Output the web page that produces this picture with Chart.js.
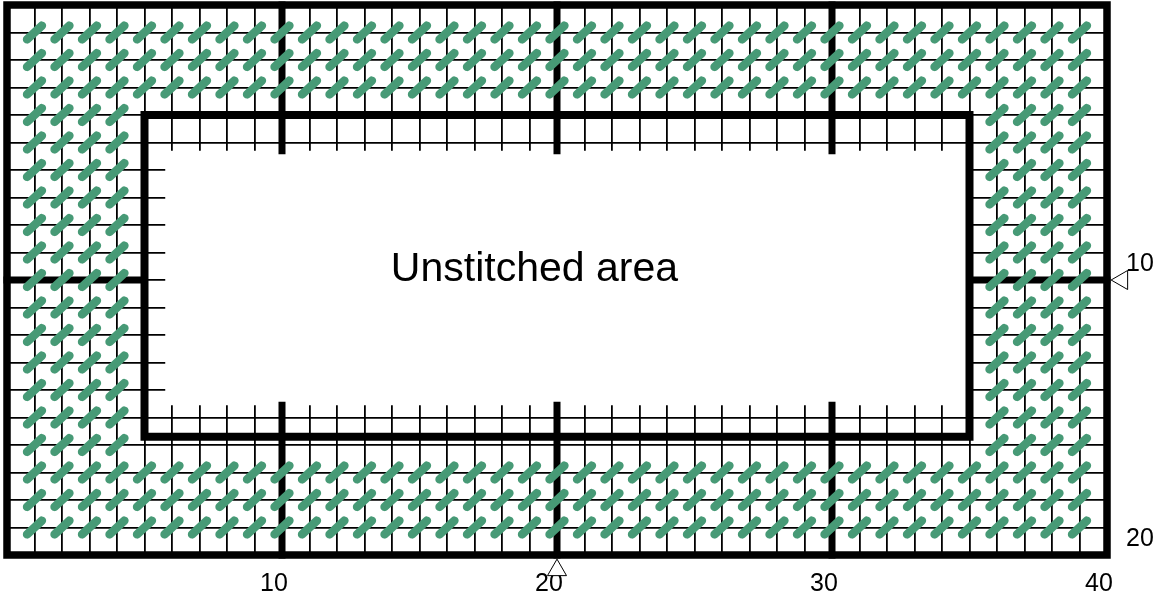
<!DOCTYPE html>
<html>
<head>
<meta charset="utf-8">
<script src="https://cdn.jsdelivr.net/npm/chart.js@4.4.1/dist/chart.umd.min.js"></script>
<style>
  html, body { margin: 0; padding: 0; background: #fff; }
</style>
</head>
<body>
<canvas id="patternChartId" width="1158" height="598"></canvas>
<script>
// pattern size in grid lines
const GRID_COLS = 40;
const GRID_ROWS = 20;

// labelled lines on each axis
const xTickLabels = [10, 20, 30, 40];
const yTickLabels = [10, 20];

// centre line markers
const centreCol = 20;
const centreRow = 10;

// stitched runs: [row, firstCol, lastCol]
const stitchRuns = [
  [1, 1, 39], [2, 1, 39], [3, 1, 39],
  [4, 1, 4], [4, 36, 39],
  [5, 1, 4], [5, 36, 39],
  [6, 1, 4], [6, 36, 39],
  [7, 1, 4], [7, 36, 39],
  [8, 1, 4], [8, 36, 39],
  [9, 1, 4], [9, 36, 39],
  [10, 1, 4], [10, 36, 39],
  [11, 1, 4], [11, 36, 39],
  [12, 1, 4], [12, 36, 39],
  [13, 1, 4], [13, 36, 39],
  [14, 1, 4], [14, 36, 39],
  [15, 1, 4], [15, 36, 39],
  [16, 1, 4], [16, 36, 39],
  [17, 1, 39], [18, 1, 39], [19, 1, 39],
];

// unstitched area: outline and the blank part inside it (grid units)
const innerBoxCols = [5, 35];
const innerBoxRows = [4, 15.7];
const blankCols = [5.75, 35];
const blankRows = [5.3, 14.55];

const areaLabel = "Unstitched area";

// heavy lines every ten cells, cut by the blank area
const heavyCols = [10, 20, 30];
const heavyRows = [10];

const STITCH_COLOR = "#479a76";
const STITCH_DX = 0.27;
const STITCH_DY = 0.25;
const MARK_GAP = 0.55;
const FONT = '"Liberation Sans", Arial, sans-serif';

const stitchPts = [];
stitchRuns.forEach(([row, c0, c1]) => {
  for (let c = c0; c <= c1; c++) {
    stitchPts.push({ x: c - STITCH_DX, y: row + STITCH_DY });
    stitchPts.push({ x: c + STITCH_DX, y: row - STITCH_DY });
    stitchPts.push({ x: c, y: null });
  }
});

const heavyPts = [];
heavyCols.forEach((c) => {
  heavyPts.push({ x: c, y: 0 }, { x: c, y: blankRows[0] }, { x: c, y: null });
  heavyPts.push({ x: c, y: blankRows[1] }, { x: c, y: GRID_ROWS }, { x: c, y: null });
});
heavyRows.forEach((r) => {
  heavyPts.push({ x: 0, y: r }, { x: innerBoxCols[0], y: r }, { x: 0, y: null });
  heavyPts.push({ x: innerBoxCols[1], y: r }, { x: GRID_COLS, y: r }, { x: 0, y: null });
});

const rectPts = (cols, rows) => [
  { x: cols[0], y: rows[0] },
  { x: cols[1], y: rows[0] },
  { x: cols[1], y: rows[1] },
  { x: cols[0], y: rows[1] },
  { x: cols[0], y: rows[0] },
];

const thick = {
  borderColor: "#000",
  borderWidth: 7,
  borderCapStyle: "square",
  borderJoinStyle: "miter",
  pointRadius: 0,
  fill: false,
  tension: 0,
  clip: false,
};

// draws the area caption at grid coordinates
const areaLabelPlugin = {
  id: "areaLabel",
  afterDatasetsDraw(chart) {
    const { ctx, scales: { x, y } } = chart;
    ctx.save();
    ctx.font = `41px ${FONT}`;
    ctx.fillStyle = "#000";
    ctx.textAlign = "center";
    ctx.textBaseline = "middle";
    ctx.fillText(areaLabel, x.getPixelForValue(19.18), y.getPixelForValue(9.64));
    ctx.restore();
  },
};

new Chart(document.getElementById("patternChartId"), {
  type: "line",
  data: {
    datasets: [
      {
        // blank interior
        data: [
          { x: blankCols[0], y: blankRows[1] },
          { x: blankCols[1], y: blankRows[1] },
        ],
        fill: { value: blankRows[0] },
        backgroundColor: "#fff",
        borderWidth: 0,
        pointRadius: 0,
        order: 6,
      },
      { ...thick, data: heavyPts, order: 5 },
      { ...thick, data: rectPts(innerBoxCols, innerBoxRows), borderWidth: 8, order: 4 },
      { ...thick, data: rectPts([0, GRID_COLS], [0, GRID_ROWS]), borderWidth: 7.5, order: 3 },
      {
        data: stitchPts,
        borderColor: STITCH_COLOR,
        borderWidth: 8.5,
        borderCapStyle: "round",
        pointRadius: 0,
        spanGaps: false,
        fill: false,
        order: 2,
      },
      {
        // right marker first so the points are not treated as sorted
        data: [
          { x: GRID_COLS + MARK_GAP, y: centreRow },
          { x: centreCol, y: GRID_ROWS + MARK_GAP },
        ],
        showLine: false,
        pointStyle: "triangle",
        pointRadius: 11,
        pointHoverRadius: 40,
        pointRotation: [-90, 0],
        pointBackgroundColor: "#fff",
        pointBorderColor: "#000",
        pointBorderWidth: 1,
        clip: false,
        order: 1,
      },
    ],
  },
  options: {
    responsive: false,
    animation: false,
    events: [],
    layout: { autoPadding: false, padding: { left: 7, top: 5, right: 0, bottom: 0 } },
    plugins: { legend: { display: false }, tooltip: { enabled: false } },
    scales: {
      x: {
        type: "linear",
        position: "bottom",
        min: 0,
        max: GRID_COLS,
        border: { display: false },
        grid: { color: "#000", lineWidth: 1.8, drawTicks: false },
        ticks: {
          stepSize: 1,
          autoSkip: false,
          maxRotation: 0,
          minRotation: 0,
          padding: 14,
          labelOffset: -8,
          color: "#000",
          font: { family: FONT, size: 25 },
          callback: (v) => (xTickLabels.includes(v) ? String(v) : ""),
        },
        afterFit(scale) {
          scale.height = 43;
          scale.paddingLeft = 0;
          scale.paddingRight = 0;
        },
      },
      y: {
        type: "linear",
        position: "right",
        reverse: true,
        min: 0,
        max: GRID_ROWS,
        border: { display: false },
        grid: { color: "#000", lineWidth: 1.8, drawTicks: false },
        ticks: {
          stepSize: 1,
          autoSkip: false,
          padding: 19,
          labelOffset: -16,
          color: "#000",
          font: { family: FONT, size: 25 },
          callback: (v) => (yTickLabels.includes(v) ? String(v) : ""),
        },
        afterFit(scale) {
          scale.width = 51;
          scale.paddingTop = 0;
          scale.paddingBottom = 0;
        },
      },
    },
  },
  plugins: [areaLabelPlugin],
});
</script>
</body>
</html>
